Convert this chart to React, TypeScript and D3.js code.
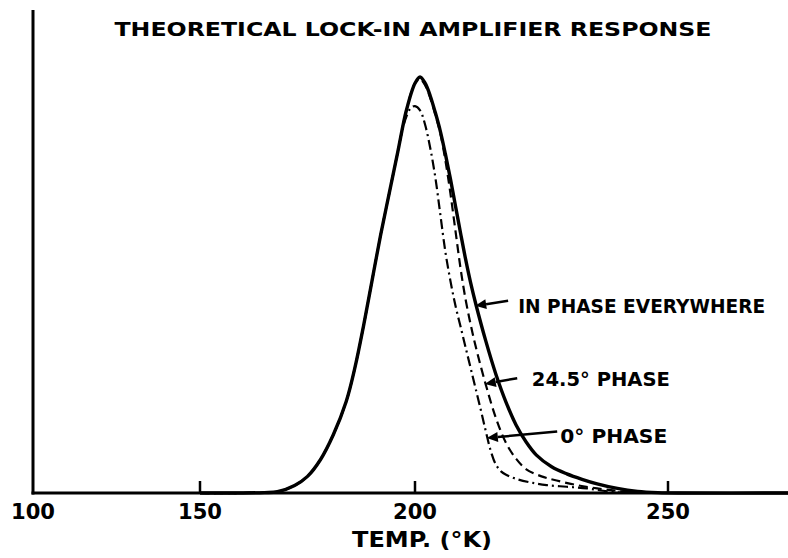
import { useMemo } from "react";
import * as d3 from "d3";

// Temperature ticks (the printed axis is not evenly spaced, so the scale is piecewise)
const tickTemps = [100, 150, 200, 250];
const tickLabels = ["100", "150", "200", "250"];

// In phase everywhere (solid)
const inPhaseT = [150, 160, 165, 168, 172, 175, 178, 181, 184, 186, 188, 190, 192, 194, 196, 198, 200, 201, 202, 203, 204, 205, 206, 207, 208, 209, 210, 211, 212, 214, 216, 218, 220, 222, 224, 227, 230, 233, 236, 240, 244, 248, 252, 274];
const inPhaseV = [0, 0, 0.001, 0.003, 0.018, 0.04, 0.08, 0.14, 0.22, 0.3, 0.4, 0.51, 0.62, 0.72, 0.82, 0.92, 0.985, 1.0, 0.985, 0.955, 0.915, 0.87, 0.815, 0.755, 0.69, 0.625, 0.562, 0.505, 0.455, 0.365, 0.285, 0.218, 0.163, 0.122, 0.091, 0.063, 0.046, 0.033, 0.022, 0.011, 0.004, 0.001, 0, 0];

// 24.5° phase (dashed)
const phase245T = [150, 160, 165, 168, 172, 175, 178, 181, 184, 186, 188, 190, 192, 194, 196, 198, 200, 201, 202, 203, 204, 205, 206, 207, 208, 209, 210, 211, 212, 214, 216, 218, 220, 222, 225, 228, 232, 236, 240, 244];
const phase245V = [0, 0, 0.001, 0.003, 0.018, 0.04, 0.08, 0.14, 0.22, 0.3, 0.4, 0.51, 0.62, 0.72, 0.82, 0.92, 0.985, 0.995, 0.98, 0.95, 0.91, 0.865, 0.8, 0.72, 0.63, 0.54, 0.465, 0.405, 0.352, 0.26, 0.18, 0.12, 0.082, 0.057, 0.04, 0.03, 0.019, 0.011, 0.005, 0];

// 0° phase (dash-dot)
const phase0T = [150, 160, 165, 168, 172, 175, 178, 181, 184, 186, 188, 190, 192, 194, 196, 197, 198, 199, 200, 201, 202, 203, 204, 205, 206, 207, 208, 209, 210, 211, 212, 213, 214, 215, 216, 217, 218, 220, 223, 226, 230, 234, 238, 242];
const phase0V = [0, 0, 0.001, 0.003, 0.018, 0.04, 0.08, 0.14, 0.22, 0.3, 0.4, 0.51, 0.62, 0.72, 0.82, 0.87, 0.905, 0.925, 0.93, 0.92, 0.885, 0.83, 0.76, 0.67, 0.58, 0.51, 0.45, 0.4, 0.35, 0.3, 0.25, 0.2, 0.148, 0.1, 0.068, 0.052, 0.044, 0.034, 0.025, 0.019, 0.015, 0.011, 0.004, 0];

const labelTexts = ["IN PHASE EVERYWHERE", "24.5° PHASE", "0° PHASE"];
// arrow tip, arrow tail and text start, in (temp, response) units
const arrowTipT = [211.9, 213.8, 214.2];
const arrowTipV = [0.45, 0.262, 0.132];
const arrowTailT = [218.4, 220.2, 228.1];
const arrowTailV = [0.462, 0.276, 0.148];
const labelT = [220.4, 223.1, 228.7];
const labelV = [0.433, 0.258, 0.119];
const labelWidths = [247, 138, 107];

const W = 788;
const H = 558;
const left = 33;
const top = 10;
const axisY = 493;
const font = "'DejaVu Sans', sans-serif";

export default function App() {
  const x = useMemo(
    () =>
      d3
        .scaleLinear()
        .domain([100, 150, 200, 250, 274])
        .range([left, 200, 415, 668, 789]),
    []
  );
  const y = useMemo(
    () => d3.scaleLinear().domain([0, 1.161]).range([axisY, top]),
    []
  );

  const line = d3
    .line<[number, number]>()
    .x((d) => x(d[0]))
    .y((d) => y(d[1]))
    .curve(d3.curveCatmullRom.alpha(0.5));

  const zip = (ts: number[], vs: number[]) =>
    ts.map((t, i) => [t, vs[i]] as [number, number]);

  return (
    <svg
      width={W}
      height={H}
      style={{ position: "absolute", left: 0, top: 0, background: "#fff" }}
    >
      <rect width={W} height={H} fill="#fff" />
      <text
        x={413}
        y={36}
        textAnchor="middle"
        fontFamily={font}
        fontWeight="bold"
        fontSize={20}
        textLength={597}
        lengthAdjust="spacingAndGlyphs"
        fill="#000"
      >
        THEORETICAL LOCK-IN AMPLIFIER RESPONSE
      </text>

      {/* axes */}
      <line x1={left} x2={left} y1={top} y2={axisY + 1.5} stroke="#000" strokeWidth={3} />
      <line x1={left - 1.5} x2={W} y1={axisY} y2={axisY} stroke="#000" strokeWidth={3} />
      {tickTemps.slice(1).map((t) => (
        <line key={t} x1={x(t)} x2={x(t)} y1={axisY} y2={axisY - 12} stroke="#000" strokeWidth={2.5} />
      ))}
      {tickTemps.map((t, i) => (
        <text
          key={t}
          x={x(t)}
          y={519}
          textAnchor="middle"
          fontFamily={font}
          fontWeight="bold"
          fontSize={22}
          textLength={44}
          lengthAdjust="spacingAndGlyphs"
          fill="#000"
        >
          {tickLabels[i]}
        </text>
      ))}
      <text
        x={422}
        y={547}
        textAnchor="middle"
        fontFamily={font}
        fontWeight="bold"
        fontSize={22}
        textLength={140}
        lengthAdjust="spacingAndGlyphs"
        fill="#000"
      >
        TEMP. (°K)
      </text>

      {/* curves */}
      <path
        d={line(zip(phase0T, phase0V)) || ""}
        fill="none"
        stroke="#000"
        strokeWidth={2.2}
        strokeDasharray="10,4,2,4"
      />
      <path
        d={line(zip(phase245T, phase245V)) || ""}
        fill="none"
        stroke="#000"
        strokeWidth={2.2}
        strokeDasharray="9,5"
      />
      <path
        d={line(zip(inPhaseT, inPhaseV)) || ""}
        fill="none"
        stroke="#000"
        strokeWidth={3.4}
        strokeLinejoin="round"
      />

      {/* annotations */}
      {labelTexts.map((txt, i) => {
        const tx = x(arrowTipT[i]);
        const ty = y(arrowTipV[i]);
        const sx = x(arrowTailT[i]);
        const sy = y(arrowTailV[i]);
        const ang = Math.atan2(sy - ty, sx - tx);
        const len = 11;
        const wid = 5;
        const bx = tx + Math.cos(ang) * len;
        const by = ty + Math.sin(ang) * len;
        const p1 = [bx + Math.sin(ang) * wid, by - Math.cos(ang) * wid];
        const p2 = [bx - Math.sin(ang) * wid, by + Math.cos(ang) * wid];
        return (
          <g key={txt}>
            <line x1={sx} y1={sy} x2={bx} y2={by} stroke="#000" strokeWidth={2.5} />
            <polygon points={`${tx},${ty} ${p1[0]},${p1[1]} ${p2[0]},${p2[1]}`} fill="#000" />
            <text
              x={x(labelT[i])}
              y={y(labelV[i])}
              fontFamily={font}
              fontWeight="bold"
              fontSize={19}
              textLength={labelWidths[i]}
              lengthAdjust="spacingAndGlyphs"
              fill="#000"
            >
              {txt}
            </text>
          </g>
        );
      })}
    </svg>
  );
}
